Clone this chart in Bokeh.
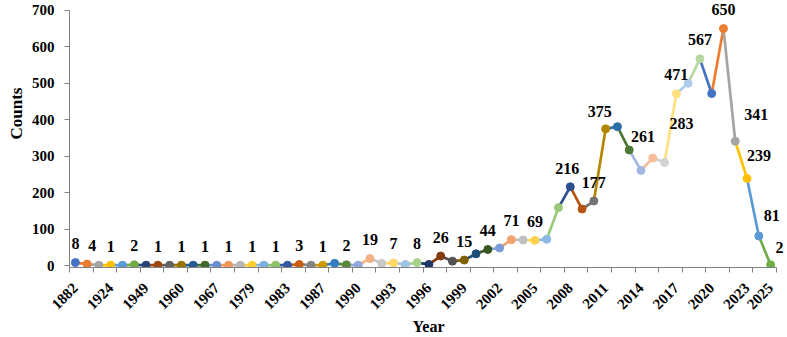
import math
from bokeh.plotting import figure
from bokeh.models import ColumnDataSource, FixedTicker, LabelSet, Range1d, Title
from bokeh.embed import file_html
from bokeh.resources import INLINE

# Publication years (one category per year that has records)
years = ["1882", "1900", "1911", "1924", "1931", "1940", "1949", "1953", "1957",
         "1960", "1963", "1965", "1967", "1970", "1975", "1979", "1980", "1981",
         "1983", "1984", "1985", "1987", "1988", "1989"] + [str(y) for y in range(1990, 2026)]

# Record counts per year
counts = [8, 4, 1, 1, 1, 2, 1, 1, 1, 1, 1, 1, 1, 1, 1, 1, 1, 1, 1, 3, 1, 1, 6, 2, 1,
          19, 6, 7, 3, 8, 3, 26, 12, 15, 32, 44, 48, 71, 70, 69, 72, 159, 216, 155, 177,
          375, 381, 317, 261, 295, 283, 471, 500, 567, 472, 650, 341, 239, 81, 2]

# Years whose count is printed above the point
labelled_years = ["1882", "1900", "1924", "1940", "1953", "1960", "1965", "1970",
                  "1979", "1981", "1984", "1987", "1989", "1991", "1993", "1995",
                  "1997", "1999", "2001", "2003", "2005", "2008", "2010", "2011",
                  "2014", "2016", "2017", "2019", "2021", "2022", "2023", "2024", "2025"]

# Years shown on the category axis
axis_years = ["1882", "1924", "1949", "1960", "1967", "1979", "1983", "1987", "1990",
              "1993", "1996", "1999", "2002", "2005", "2008", "2011", "2014", "2017",
              "2020", "2023", "2025"]

# Office theme "vary colours by point" cycle
palette = [
    "#4472C4", "#ED7D31", "#A5A5A5", "#FFC000", "#5B9BD5", "#70AD47",
    "#264478", "#9E480E", "#636363", "#997300", "#255E91", "#43682B",
    "#698ED0", "#F1975A", "#B7B7B7", "#FFCD33", "#7CAFDD", "#8CC168",
    "#335AA1", "#C85E13", "#848484", "#CC9A00", "#327DC2", "#5A8A39",
    "#8FAADC", "#F4B183", "#C9C9C9", "#FFD966", "#9DC3E6", "#A9D18E",
    "#203864", "#843C0C", "#525252", "#7F6000", "#1F4E79", "#385723",
    "#7C9CD7", "#F3A36F", "#C0C0C0", "#FFD24D", "#8CB9E1", "#9AC97B",
    "#2C4E8E", "#B85310", "#737373", "#B38600", "#2B6DA9", "#4F7932",
    "#A1B8E2", "#F6BD98", "#D2D2D2", "#FFDF80", "#ADCDEA", "#B7D8A1",
]

FONT = "Liberation Serif"
Y_MAX = 700

pos = list(range(len(years)))
colors = [palette[i % len(palette)] for i in pos]

# The frame runs to the window's top and right edges so that value labels near
# the edges are not cut off; the axis lines are bounded to the data area.
px_per_unit_y = 258 / Y_MAX
px_per_unit_x = 707 / len(years)
y_lo = -2 / px_per_unit_y
y_hi = Y_MAX + 10 / px_per_unit_y
x_lo = -0.5
x_hi = x_lo + 718 / px_per_unit_x

p = figure(width=787, height=337, output_backend="svg", toolbar_location=None,
           x_range=Range1d(x_lo, x_hi), y_range=Range1d(y_lo, y_hi),
           min_border_left=69, min_border_right=0, min_border_top=0,
           min_border_bottom=67)
p.outline_line_color = None
p.grid.visible = False
p.background_fill_color = "white"
p.border_fill_color = "white"

# line pieces take the colour of the point they run into
seg = ColumnDataSource(dict(x0=pos[:-1], y0=counts[:-1], x1=pos[1:], y1=counts[1:],
                            c=colors[1:]))
p.segment("x0", "y0", "x1", "y1", source=seg, line_color="c", line_width=2.7)

pts = ColumnDataSource(dict(x=pos, y=counts, c=colors))
p.scatter("x", "y", source=pts, size=8, fill_color="c", line_color="c")

# value labels, nudged where they would collide with the line
nudges = {"1900": (5, 19), "2008": (-3, 18), "2011": (-6, 17), "2014": (2, 34),
          "2016": (17, 39), "2022": (21, 27), "2023": (12, 23), "2024": (13, 20),
          "2025": (9, 17)}
lx, ly, lt, dx, dy = [], [], [], [], []
for yr in labelled_years:
    i = years.index(yr)
    lx.append(i)
    ly.append(counts[i])
    lt.append(str(counts[i]))
    ox, oy = nudges.get(yr, (0, 19))
    dx.append(ox)
    dy.append(oy)
lab = ColumnDataSource(dict(x=lx, y=ly, t=lt, dx=dx, dy=dy))
p.add_layout(LabelSet(x="x", y="y", text="t", x_offset="dx", y_offset="dy", source=lab,
                      text_align="center", text_baseline="middle", text_font=FONT,
                      text_font_style="bold", text_font_size="16px", text_color="black"))

# x axis: labels on chosen years, tick marks between every second category
xt = [years.index(y) for y in axis_years]
p.xaxis.bounds = (-0.5, len(years) - 0.5)
p.xaxis.ticker = FixedTicker(ticks=xt, minor_ticks=[k - 0.5 for k in range(0, len(years) + 1, 2)])
p.xaxis.major_label_overrides = {i: years[i] for i in xt}
p.xaxis.major_label_orientation = math.pi / 4
p.xaxis.major_tick_line_color = None
p.xaxis.major_tick_out = 0
p.xaxis.major_tick_in = 0
p.xaxis.minor_tick_line_color = "#808080"
p.xaxis.minor_tick_out = 5
p.xaxis.minor_tick_in = 0
p.xaxis.major_label_standoff = 13
p.xaxis.axis_label = "Year"
p.xaxis.axis_label_standoff = 1

p.yaxis.bounds = (y_lo, Y_MAX)
p.yaxis.ticker = FixedTicker(ticks=list(range(0, Y_MAX + 1, 100)))
p.yaxis.minor_tick_line_color = None
p.yaxis.major_tick_line_color = "#808080"
p.yaxis.major_tick_out = 5
p.yaxis.major_tick_in = 0
p.yaxis.major_label_standoff = 10

for ax in (p.xaxis, p.yaxis):
    ax.axis_line_color = "#808080"
    ax.axis_line_width = 1
    ax.major_label_text_font = FONT
    ax.major_label_text_font_style = "bold"
    ax.major_label_text_font_size = "15px"
    ax.major_label_text_color = "black"
    ax.axis_label_text_font = FONT
    ax.axis_label_text_font_style = "bold"
    ax.axis_label_text_font_size = "16px"
    ax.axis_label_text_color = "black"

# vertical axis title, set a little above the frame's middle
p.add_layout(Title(text="Counts", align="left", offset=128, standoff=6,
                   text_font=FONT, text_font_style="bold", text_font_size="17px",
                   text_color="black"), "left")

open("out.html", "w").write(file_html(p, INLINE))
